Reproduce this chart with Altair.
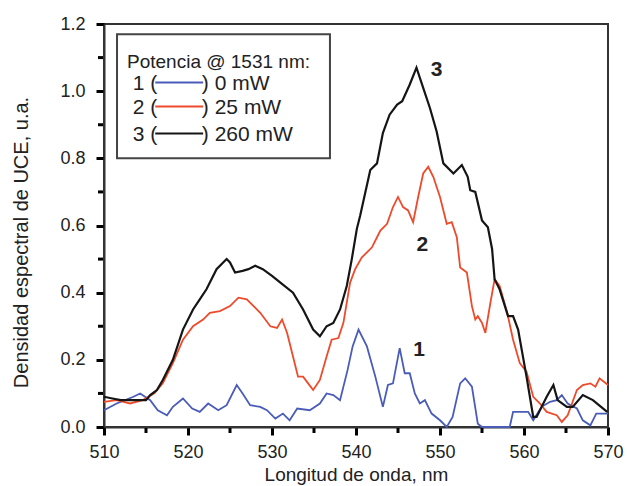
import altair as alt
import pandas as pd

# ---- data ----
wl_3 = [510.0, 511.0, 512.0, 513.0, 514.0, 515.0, 515.5, 516.3, 517.0, 518.2, 519.4, 520.6, 521.4, 522.2,
        523.4, 524.6, 525.0, 525.6, 526.5, 527.2, 528.0, 528.9, 530.0, 531.0, 532.5, 533.7, 534.9, 535.7,
        536.5, 537.3, 538.1, 538.9, 539.5, 540.1, 540.5, 541.7, 542.5, 543.2, 544.0, 544.9, 545.5, 546.4,
        547.2, 548.0, 548.8, 549.6, 550.4, 551.6, 552.6, 553.3, 553.6, 554.2, 555.0, 555.7, 556.2, 556.5,
        557.1, 558.1, 558.7, 559.3, 560.3, 561.1, 561.5, 562.7, 563.5, 564.0, 565.1, 565.8, 567.0, 568.2,
        569.9]
val_3 = [0.09, 0.085, 0.08, 0.08, 0.08, 0.08, 0.095, 0.11, 0.14, 0.20, 0.29, 0.35, 0.38, 0.41,
         0.47, 0.50, 0.49, 0.46, 0.465, 0.47, 0.48, 0.47, 0.45, 0.43, 0.40, 0.35, 0.29, 0.27,
         0.30, 0.31, 0.35, 0.42, 0.50, 0.59, 0.63, 0.765, 0.785, 0.875, 0.93, 0.96, 0.97, 1.02,
         1.07, 1.01, 0.95, 0.88, 0.785, 0.755, 0.78, 0.745, 0.705, 0.70, 0.615, 0.595, 0.53, 0.44,
         0.41, 0.33, 0.33, 0.29, 0.15, 0.03, 0.03, 0.09, 0.125, 0.08, 0.06, 0.06, 0.095, 0.08,
         0.045]

wl_2 = [510.0, 511.5, 513.1, 514.6, 516.0, 517.0, 518.2, 519.4, 520.6, 521.8, 522.6, 523.8, 525.0, 526.0,
        527.0, 528.6, 529.8, 530.6, 531.2, 531.8, 532.5, 533.1, 533.7, 534.3, 534.9, 535.7, 536.5, 537.1,
        537.9, 538.5, 539.3, 539.9, 540.7, 541.3, 541.9, 542.5, 542.9, 543.7, 544.4, 545.0, 545.6, 546.2,
        546.8, 547.4, 548.0, 548.6, 549.2, 550.0, 550.8, 551.4, 552.0, 552.4, 553.2, 553.8, 554.2, 554.5,
        555.0, 555.4, 556.0, 556.5, 557.1, 558.0, 558.7, 559.5, 560.3, 561.1, 561.9, 562.7, 563.9, 564.5,
        565.2, 566.3, 567.0, 567.9, 568.5, 569.0, 570.0]
val_2 = [0.075, 0.08, 0.07, 0.08, 0.10, 0.13, 0.19, 0.26, 0.30, 0.32, 0.34, 0.345, 0.36, 0.385,
         0.38, 0.34, 0.30, 0.295, 0.32, 0.28, 0.21, 0.15, 0.15, 0.13, 0.11, 0.14, 0.21, 0.26,
         0.265, 0.31, 0.43, 0.47, 0.505, 0.52, 0.535, 0.565, 0.585, 0.605, 0.655, 0.685, 0.655, 0.645,
         0.61, 0.685, 0.755, 0.775, 0.745, 0.685, 0.605, 0.61, 0.565, 0.475, 0.46, 0.36, 0.32, 0.33,
         0.31, 0.28, 0.37, 0.44, 0.42, 0.34, 0.26, 0.19, 0.165, 0.09, 0.07, 0.045, 0.035, 0.015,
         0.035, 0.11, 0.125, 0.13, 0.12, 0.145, 0.125]

wl_1 = [510.0, 511.5, 513.5, 514.3, 515.5, 516.4, 517.5, 518.2, 519.4, 520.5, 521.4, 522.4, 523.6, 524.6,
        525.8, 526.5, 527.4, 528.6, 529.4, 530.4, 531.3, 532.1, 533.0, 534.5, 535.7, 536.5, 537.3, 538.1,
        539.0, 539.6, 540.3, 541.3, 542.3, 543.2, 543.8, 544.4, 545.2, 545.8, 546.4, 547.0, 547.6, 548.2,
        549.0, 550.0, 550.8, 551.5, 552.4, 553.0, 553.8, 554.5, 555.0, 558.3, 558.7, 560.5, 561.1, 562.1,
        563.1, 563.9, 564.5, 565.2, 566.3, 567.0, 567.9, 568.6, 570.0]
val_1 = [0.05, 0.07, 0.09, 0.10, 0.08, 0.05, 0.035, 0.06, 0.085, 0.055, 0.045, 0.07, 0.05, 0.065,
         0.125, 0.10, 0.065, 0.06, 0.05, 0.025, 0.04, 0.02, 0.055, 0.05, 0.07, 0.10, 0.095, 0.08,
         0.17, 0.24, 0.29, 0.24, 0.15, 0.06, 0.125, 0.13, 0.235, 0.16, 0.16, 0.10, 0.07, 0.08,
         0.04, 0.02, 0.0, 0.03, 0.13, 0.145, 0.12, 0.01, 0.0, 0.0, 0.045, 0.045, 0.02, 0.06,
         0.075, 0.08, 0.095, 0.07, 0.055, 0.02, 0.005, 0.04, 0.04]

series_names = ["1", "2", "3"]
series_colors = ["#4a5cb8", "#ee4a2c", "#151515"]
legend_titles = ["Potencia @ 1531 nm:"]
legend_left = ["1 (", "2 (", "3 ("]
legend_right = [") 0 mW", ") 25 mW", ") 260 mW"]
legend_row_v = [1.022, 0.950, 0.870]
curve_labels = ["1", "2", "3"]
curve_label_nm = [547.5, 547.9, 549.6]
curve_label_v = [0.229, 0.542, 1.062]

x_major = list(range(510, 571, 10))
x_minor = list(range(515, 570, 10))
y_major = [round(i * 0.2, 1) for i in range(7)]
y_minor = [round(0.1 + i * 0.2, 1) for i in range(6)]

FONT = "Liberation Sans"
FRAME = "#333333"
TXT = "#222222"
TICK = "black"


def xenc(field="nm"):
    return alt.X(f"{field}:Q",
                 scale=alt.Scale(domain=[510, 570], nice=False, zero=False),
                 axis=alt.Axis(values=x_major, grid=False, title="Longitud de onda, nm",
                               ticks=True, tickSize=8, tickWidth=3, tickColor=TICK,
                               domainColor=FRAME, domainWidth=2,
                               labelFlush=False, labelOverlap=False,
                               labelFont=FONT, labelFontSize=18, labelColor=TXT, labelPadding=8,
                               titleFont=FONT, titleFontSize=19, titleFontWeight="normal",
                               titleColor=TXT, titlePadding=4))


def yenc(field="v"):
    return alt.Y(f"{field}:Q",
                 scale=alt.Scale(domain=[0, 1.2], nice=False),
                 axis=alt.Axis(values=y_major, grid=False, title="Densidad espectral de UCE, u.a.",
                               ticks=True, tickSize=8, tickWidth=3, tickColor=TICK,
                               domainColor=FRAME, domainWidth=2,
                               labelFlush=False, labelOverlap=False, format=".1f",
                               labelFont=FONT, labelFontSize=18, labelColor=TXT, labelPadding=11,
                               titleFont=FONT, titleFontSize=20, titleFontWeight="normal",
                               titleColor=TXT, titlePadding=28, titleY=218))


curves = [(wl_1, val_1), (wl_2, val_2), (wl_3, val_3)]
layers = []

# legend box
box = pd.DataFrame({"nm": [511.55], "nm2": [536.9], "v": [1.1696], "v2": [0.8006]})
layers.append(alt.Chart(box).mark_rect(fill="white", stroke="#444444", strokeWidth=2).encode(
    x=xenc(), x2="nm2:Q", y=yenc(), y2="v2:Q"))

for name, color, (wl, val) in zip(series_names, series_colors, curves):
    d = pd.DataFrame({"nm": wl, "v": val})
    layers.append(alt.Chart(d).mark_line(color=color, strokeWidth=2.2 if name == "3" else 1.8,
                                         interpolate="linear").encode(x=xenc(), y=yenc()))

# minor ticks (outward, shorter than the major ones)
mx = pd.DataFrame({"nm": x_minor})
layers.append(alt.Chart(mx).mark_rule(color=TICK, strokeWidth=3).encode(
    x=xenc(), y=alt.value(404), y2=alt.value(409)))
my = pd.DataFrame({"v": y_minor})
layers.append(alt.Chart(my).mark_rule(color=TICK, strokeWidth=3).encode(
    y=yenc(), x=alt.value(-1), x2=alt.value(-6)))

# legend content
title_df = pd.DataFrame({"nm": [512.74], "v": [1.086], "t": legend_titles})
layers.append(alt.Chart(title_df).mark_text(align="left", baseline="middle", font=FONT, fontSize=19,
                                            color=TXT).encode(x=xenc(), y=yenc(), text="t:N"))
left_df = pd.DataFrame({"nm": [516.35] * 3, "v": legend_row_v, "t": legend_left})
layers.append(alt.Chart(left_df).mark_text(align="right", baseline="middle", font=FONT, fontSize=21,
                                           color=TXT).encode(x=xenc(), y=yenc(), text="t:N"))
right_df = pd.DataFrame({"nm": [521.65] * 3, "v": legend_row_v, "t": legend_right})
layers.append(alt.Chart(right_df).mark_text(align="left", baseline="middle", font=FONT, fontSize=21,
                                            color=TXT).encode(x=xenc(), y=yenc(), text="t:N"))
seg_df = pd.DataFrame({"nm": [516.1] * 3, "nm2": [521.8] * 3, "v": [v + 0.004 for v in legend_row_v],
                       "s": series_names})
layers.append(alt.Chart(seg_df).mark_rule(strokeWidth=2).encode(
    x=xenc(), x2="nm2:Q", y=yenc(),
    color=alt.Color("s:N", scale=alt.Scale(domain=series_names, range=series_colors), legend=None)))

# curve labels
lab_df = pd.DataFrame({"nm": curve_label_nm, "v": curve_label_v, "t": curve_labels})
layers.append(alt.Chart(lab_df).mark_text(align="center", baseline="middle", font=FONT, fontSize=21,
                                          fontWeight="bold", color=TXT).encode(
    x=xenc(), y=yenc(), text="t:N"))

chart = alt.layer(*layers).properties(
    width=504, height=403,
    autosize="none",
    padding={"left": 104, "top": 24, "right": 19, "bottom": 59},
    background="white",
    view=alt.ViewBackground(stroke=FRAME, strokeWidth=2),
)

chart.save("out.html", embed_options={"renderer": "svg", "actions": False})
